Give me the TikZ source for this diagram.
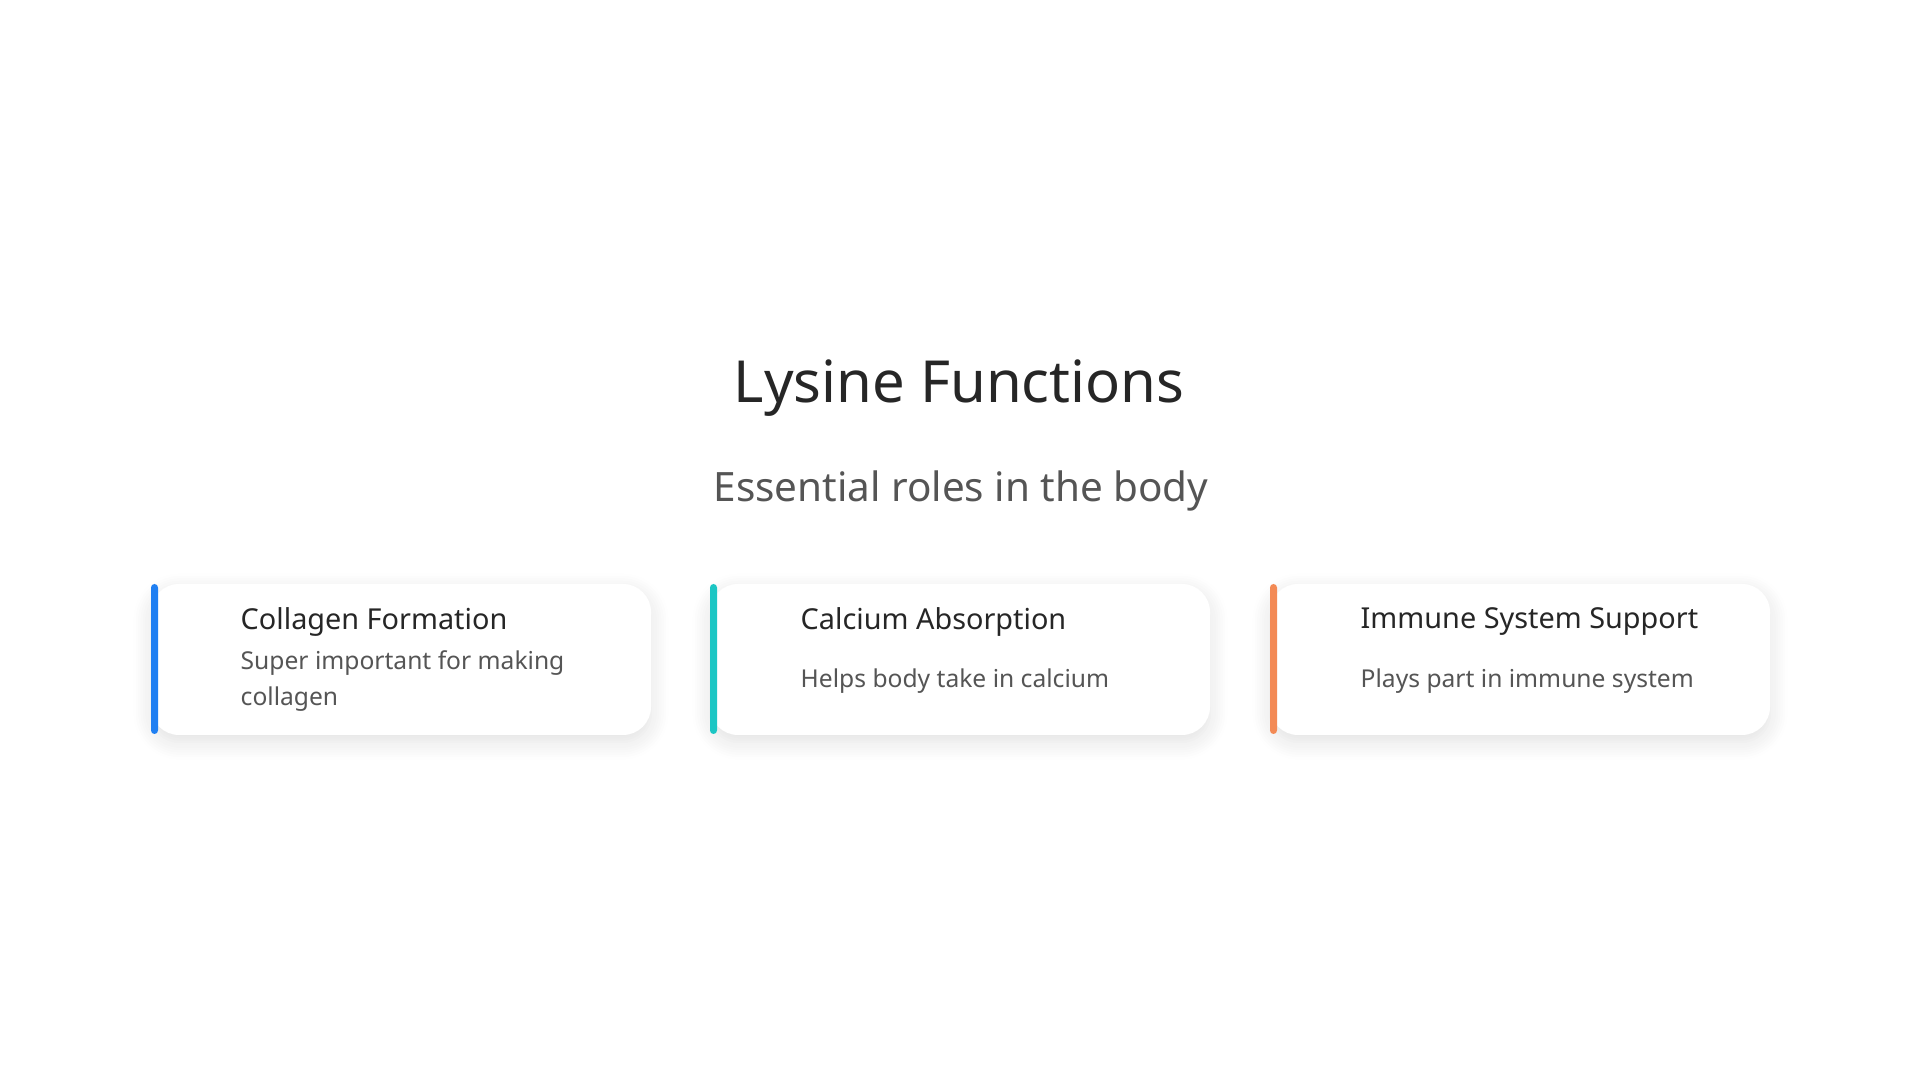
\documentclass[tikz,border=0pt]{standalone}
\usepackage{fontspec}
\setmainfont{Noto Sans}
\usetikzlibrary{shadows.blur}
\definecolor{titlegray}{HTML}{262626}
\definecolor{subgray}{HTML}{555555}
\definecolor{accblue}{HTML}{1F7FF2}
\definecolor{accteal}{HTML}{1CC6C4}
\definecolor{accorange}{HTML}{F38A55}
\tikzset{
  card/.style={fill=white, rounded corners=8pt, blur shadow={shadow blur steps=8, shadow xshift=0pt, shadow yshift=-2pt, shadow opacity=12, shadow blur radius=5pt}},
  head/.style={anchor=west, font=\bfseries\fontsize{8.2}{10}\selectfont, text=titlegray, inner sep=0pt},
  body/.style={anchor=west, font=\fontsize{7}{10}\selectfont, text=subgray, inner sep=0pt, align=left}
}
\begin{document}
\begin{tikzpicture}[x=0.01cm, y=-0.01cm]
\useasboundingbox (0,0) rectangle (1920,1080);

\node (title) at (959,388) {\fontsize{16.5}{20}\selectfont\color{titlegray}Lysine Functions};
\node (sub)   at (961,491) {\fontsize{11.5}{14}\selectfont\color{subgray}Essential roles in the body};

% cards
\foreach \x/\c in {151/accblue, 710/accteal, 1270/accorange} {
  \fill[card] (\x,584) rectangle (\x+500,735);
  \fill[\c, rounded corners=1pt] (\x,584) rectangle (\x+7,734);
}

\node[head] (h1) at (240,622) {Collagen Formation};
\node[body] (b1) at (240,681) {Super important for making\\collagen};
\node[head] (h2) at (800,622) {Calcium Absorption};
\node[body] (b2) at (800,681) {Helps body take in calcium};
\node[head] (h3) at (1360,622) {Immune System Support};
\node[body] (b3) at (1360,681) {Plays part in immune system};

\end{tikzpicture}
\end{document}
